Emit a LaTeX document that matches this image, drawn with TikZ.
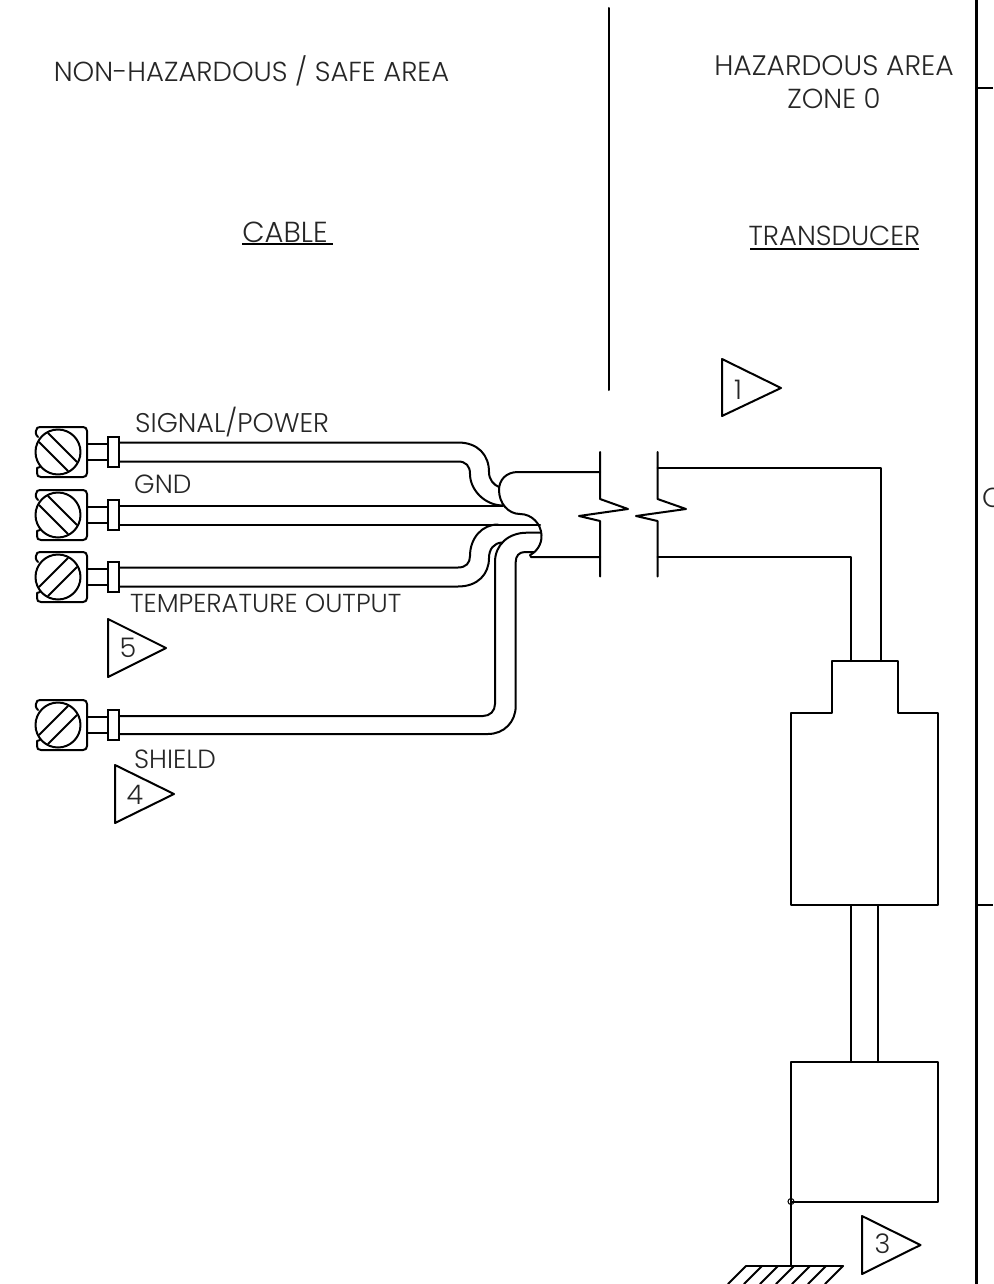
\documentclass[tikz,border=0pt]{standalone}
\usepackage{fontspec}
\setmainfont{Poppins Light}
\usetikzlibrary{calc}
\tikzset{
  ln/.style={line width=2pt,line join=round,line cap=round},
  heavy/.style={line width=3pt},
  lab/.style={inner sep=0pt,font=\fontsize{27.5}{27.5}\selectfont,text=black!85},
  wlab/.style={inner sep=0pt,font=\fontsize{26.3}{26.3}\selectfont,text=black!85},
  collar/.style={draw,line width=2pt,minimum width=11pt,minimum height=30pt,inner sep=0pt},
  flag/.style={inner sep=0pt,font=\fontsize{27}{27}\selectfont,text=black!85}
}
\newcommand{\terminal}[4]{% name, centre y, slot sign, half wire gap
  \begin{scope}[shift={(0,#2)}]
    \draw[ln] (38,-15) .. controls (35,-18) and (36,-20) .. (36,-21) .. controls (36,-24) and (38,-25) .. (40,-25) -- (83,-25)
       .. controls (85.5,-25) and (87,-23.5) .. (87,-21) -- (87,21) .. controls (87,23.5) and (85.5,25) .. (83,25) -- (41,25)
       .. controls (38,25) and (37,23.5) .. (37,21) -- (37,16) -- (40,15);
    \draw[ln,fill=white] (58,0) circle (22.5);
    \draw[ln] ($(58,0)+(-19,{-#3*10})$) -- ($(58,0)+(10,{#3*19})$);
    \draw[ln] ($(58,0)+(-10,{-#3*19})$) -- ($(58,0)+(19,{#3*10})$);
    \draw[ln] (87,-8) -- (108,-8) (87,8) -- (108,8);
    \node[collar] (#1) at (113.5,0) {};
    \coordinate (#1a) at (119,-#4);
    \coordinate (#1b) at (119,#4);
  \end{scope}}
\begin{document}
\begin{tikzpicture}[x=1pt,y=-1pt]
\useasboundingbox (0,0) rectangle (993,1284);
\clip (0,0) rectangle (993,1284);
% frame
\coordinate (frT) at (976,0); \coordinate (frB) at (976,1284);
\draw[heavy] (frT) -- (frB);
\coordinate (t1) at (993,88); \coordinate (t1b) at (976,88);
\coordinate (t2) at (993,905); \coordinate (t2b) at (976,905);
\draw[line width=2.4pt] (t1b) -- (t1) (t2b) -- (t2);
\node[lab,anchor=west] (clab) at (982,498) {C};
% divider
\coordinate (divT) at (609,8); \coordinate (divB) at (609,390);
\draw[ln] (divT) -- (divB);
% headings
\node[lab] (safe) at (251.5,71) {NON-HAZARDOUS / SAFE AREA};
\node[lab,font=\fontsize{28.2}{28.2}\selectfont] (haz) at (834,66) {HAZARDOUS AREA};
\node[lab] (zone) at (834,99) {ZONE 0};
\node[lab,font=\fontsize{29}{29}\selectfont] (cable) at (285,232) {CABLE};
\node[lab] (trans) at (834.5,236) {TRANSDUCER};
\coordinate (cu1) at (242,244); \coordinate (cu2) at (333,244);
\coordinate (tu1) at (750,249); \coordinate (tu2) at (919,249);
\draw[line width=1.4pt] (cu1) -- (cu2) (tu1) -- (tu2);
% wire labels
\node[wlab,anchor=west,font=\fontsize{27}{27}\selectfont] (sig) at (135,422) {SIGNAL/POWER};
\node[wlab,anchor=west] (gnd) at (134,484) {GND};
\node[wlab,anchor=west,font=\fontsize{26}{26}\selectfont] (tmp) at (130,603) {TEMPERATURE OUTPUT};
\node[wlab,anchor=west] (shd) at (134,759) {SHIELD};
% terminals
\terminal{ta}{452}{1}{9.5}
\terminal{tb}{515}{1}{9.5}
\terminal{tc}{577}{-1}{9.5}
\terminal{td}{725}{-1}{9}
% wires
\draw[ln] (taa) -- (458,442.5) .. controls (478,442.5) and (489,455) .. (489,472) .. controls (489,480) and (494,485) .. (499,487);
\draw[ln] (tab) -- (458,461.5) .. controls (466,461.5) and (470,466) .. (470,474) .. controls (470,490) and (485,505.5) .. (503,505.5);
\draw[ln] (tba) -- (503,505.5);
\draw[ln] (tbb) -- (540,524.5);
\draw[ln] (tca) -- (458,567.5) .. controls (466,567.5) and (470,563) .. (470,556) .. controls (470,538) and (482,524.5) .. (498,524.5);
\draw[ln] (tcb) -- (458,586.5) .. controls (478,586.5) and (489,574) .. (489,558) .. controls (489,549) and (494,543) .. (502,542.5);
\draw[ln] (tda) -- (483,716) .. controls (490,716) and (495,711) .. (495,704) -- (495,562) .. controls (495,545) and (508,532.7) .. (527,532.7) -- (541,532.7);
\draw[ln] (tdb) -- (488,734) .. controls (504,734) and (515.7,722) .. (515.7,706) -- (515.7,562) .. controls (515.7,556) and (519,552) .. (525,552) -- (534,552);
% cable outline
\coordinate (brLa) at (600,472); \coordinate (brLb) at (600,557);
\draw[ln] (brLa) -- (518,472) .. controls (506,472) and (499,480) .. (499,490) .. controls (499,503) and (508,514) .. (520,514) .. controls (532,514) and (541,524) .. (541.5,535) .. controls (542,545) and (536,552) .. (530,555) -- (531,557) -- (brLb);
% breaks
\draw[ln] (600,452) -- (600,499) -- (628,509) -- (579,516) -- (600,521) -- (600,576.5);
\draw[ln] (657.5,452) -- (657.5,499) -- (686,509) -- (636,516) -- (657.5,521) -- (657.5,576.5);
% transducer
\coordinate (brRa) at (657.5,468); \coordinate (brRb) at (657.5,557);
\coordinate (neckA) at (881,661); \coordinate (neckB) at (851,661);
\draw[ln] (brRa) -| (neckA);
\draw[ln] (brRb) -| (neckB);
\draw[ln] (832,661) -- (898,661) -- (898,713) -- (938,713) -- (938,905) -- (791,905) -- (791,713) -- (832,713) -- cycle;
\coordinate (tubeAt) at (851,905); \coordinate (tubeAb) at (851,1062);
\coordinate (tubeBt) at (878,905); \coordinate (tubeBb) at (878,1062);
\draw[ln] (tubeAt) -- (tubeAb) (tubeBt) -- (tubeBb);
\coordinate (gj) at (791,1201.5); \coordinate (gt) at (791,1266);
\draw[ln] (gj) -- (791,1062) -- (938,1062) -- (938,1201.5) -- (gj);
\draw[ln] (gj) -- (gt);
\draw[line width=1pt] (gj) circle (3);
% ground
\draw[ln] (746,1266) -- (843,1266);
\foreach \x in {746,762,778,794,810,826,843}{
  \draw[ln] (\x,1266) -- (\x-18,1284);
}
% flags
\draw[ln] (722,359) -- (781,388) -- (722,416) -- cycle;
\node[flag] (f1) at (738,390) {1};
\draw[ln] (108,619) -- (166,648) -- (108,677) -- cycle;
\node[flag] (f5) at (128,648) {5};
\draw[ln] (115,765) -- (174,794) -- (115,823) -- cycle;
\node[flag] (f4) at (135,795) {4};
\draw[ln] (862,1216) -- (920.5,1245) -- (862,1274) -- cycle;
\node[flag] (f3) at (882.5,1244) {3};
\end{tikzpicture}
\end{document}
